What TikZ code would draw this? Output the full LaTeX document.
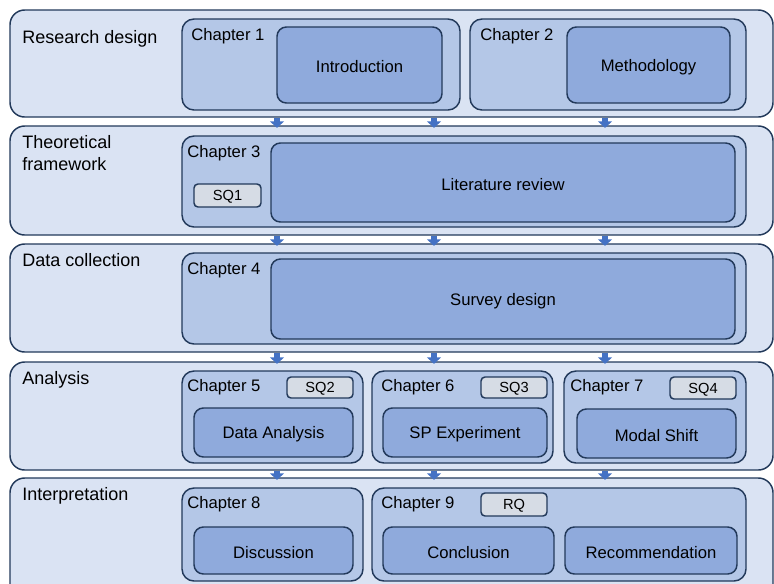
\documentclass[tikz,border=0pt]{standalone}
\usepackage{fontspec}
\setmainfont{Liberation Sans}
\usepackage{tikz}
\usetikzlibrary{fit}
\usetikzlibrary{arrows.meta}
\definecolor{rowfill}{HTML}{DAE3F3}
\definecolor{chapfill}{HTML}{B4C7E7}
\definecolor{innerfill}{HTML}{8FAADC}
\definecolor{sqfill}{HTML}{D6DCE5}
\definecolor{edge}{HTML}{22395A}
\definecolor{arrblue}{HTML}{4472C4}
\tikzset{
  rowbox/.style={draw=edge, line width=1.1pt, fill=rowfill, rounded corners=11pt, inner sep=0pt},
  chapbox/.style={draw=edge, line width=1.1pt, fill=chapfill, rounded corners=9pt, inner sep=0pt},
  innerbox/.style={draw=edge, line width=1.1pt, fill=innerfill, rounded corners=7pt, inner sep=0pt},
  sqbox/.style={draw=edge, line width=1.1pt, fill=sqfill, rounded corners=3pt, inner sep=0pt},
  sqtext/.style={font=\fontsize{11}{13}\selectfont},
  rowlbl/.style={anchor=base west, inner sep=0pt, font=\fontsize{13.5}{16.3}\selectfont},
  lbl/.style={anchor=base west, inner sep=0pt},
  every label/.style={yshift=-1.3pt},
  flow/.style={arrblue, line width=4.5pt, -{Triangle[width=10.5pt,length=5pt]}}
}
\begin{document}
\begin{tikzpicture}[x=0.75pt, y=-0.75pt, every node/.style={font=\fontsize{12.5}{15}\selectfont}]
\useasboundingbox (0,0) rectangle (774,583);
\clip (0,0) rectangle (774,583);
% rows
\node[rowbox, fit={(10,10) (773,117)}] (r1) {};
\node[rowbox, fit={(10,126) (773,235)}] (r2) {};
\node[rowbox, fit={(10,244) (773,352)}] (r3) {};
\node[rowbox, fit={(10,362) (773,470)}] (r4) {};
\node[rowbox, fit={(10,478) (773,600)}] (r5) {};
\node[rowlbl] (t1) at (22,43) {Research design};
\node[rowlbl, align=left] (t2) at (22,170) {Theoretical\\framework};
\node[rowlbl] (t3) at (22,266) {Data collection};
\node[rowlbl] (t4) at (22,384) {Analysis};
\node[rowlbl] (t5) at (22,500) {Interpretation};
% chapters
\node[chapbox, fit={(182,19) (460,110)}] (ch1) {};
\node[chapbox, fit={(470,19) (746,110)}] (ch2) {};
\node[chapbox, fit={(182,136) (746,227)}] (ch3) {};
\node[chapbox, fit={(182,253) (746,344)}] (ch4) {};
\node[chapbox, fit={(182,371) (363,463)}] (ch5) {};
\node[chapbox, fit={(372,371) (553,463)}] (ch6) {};
\node[chapbox, fit={(564,371) (746,463)}] (ch7) {};
\node[chapbox, fit={(182,488) (363,581)}] (ch8) {};
\node[chapbox, fit={(372,488) (746,581)}] (ch9) {};
\node[lbl] (c1) at (191,40) {Chapter 1};
\node[lbl] (c2) at (480,40) {Chapter 2};
\node[lbl] (c3) at (187,157) {Chapter 3};
\node[lbl] (c4) at (187,274) {Chapter 4};
\node[lbl] (c5) at (187,391) {Chapter 5};
\node[lbl] (c6) at (381,391) {Chapter 6};
\node[lbl] (c7) at (570,391) {Chapter 7};
\node[lbl] (c8) at (187,508) {Chapter 8};
\node[lbl] (c9) at (381,508) {Chapter 9};
% contents
\node[innerbox, fit={(277,27) (442,103)}, label=center:Introduction] (intro) {};
\node[innerbox, fit={(567,27) (730,103)}, label=center:Methodology] (meth) {};
\node[innerbox, fit={(271,143) (735,222)}, label=center:Literature review] (lit) {};
\node[innerbox, fit={(271,259) (735,339)}, label=center:Survey design] (survey) {};
\node[innerbox, fit={(194,408) (353,457)}, label=center:Data Analysis] (data) {};
\node[innerbox, fit={(383,408) (547,457)}, label=center:SP Experiment] (sp) {};
\node[innerbox, fit={(577,409) (736,458)}, label=center:Modal Shift] (modal) {};
\node[innerbox, fit={(194,527) (353,574)}, label=center:Discussion] (disc) {};
\node[innerbox, fit={(383,527) (554,574)}, label=center:Conclusion] (concl) {};
\node[innerbox, fit={(565,527) (737,574)}, label=center:Recommendation] (recom) {};
\node[sqbox, fit={(194,184) (261,207)}, label={[sqtext]center:SQ1}] (sq1) {};
\node[sqbox, fit={(287,377) (353,398)}, label={[sqtext]center:SQ2}] (sq2) {};
\node[sqbox, fit={(481,377) (547,398)}, label={[sqtext]center:SQ3}] (sq3) {};
\node[sqbox, fit={(670,377) (736,399)}, label={[sqtext]center:SQ4}] (sq4) {};
\node[sqbox, fit={(481,493) (547,516)}, label={[sqtext]center:RQ}] (rq) {};
% arrows between rows
\coordinate (xa) at (277,0);
\coordinate (xb) at (434,0);
\coordinate (xc) at (605,0);
\foreach \up/\dn in {r1/r2, r2/r3, r3/r4, r4/r5} {
  \draw[flow] (\up.south -| xa) -- ([yshift=-2pt]\dn.north -| xa);
  \draw[flow] (\up.south -| xb) -- ([yshift=-2pt]\dn.north -| xb);
  \draw[flow] (\up.south -| xc) -- ([yshift=-2pt]\dn.north -| xc);
}
\end{tikzpicture}
\end{document}
